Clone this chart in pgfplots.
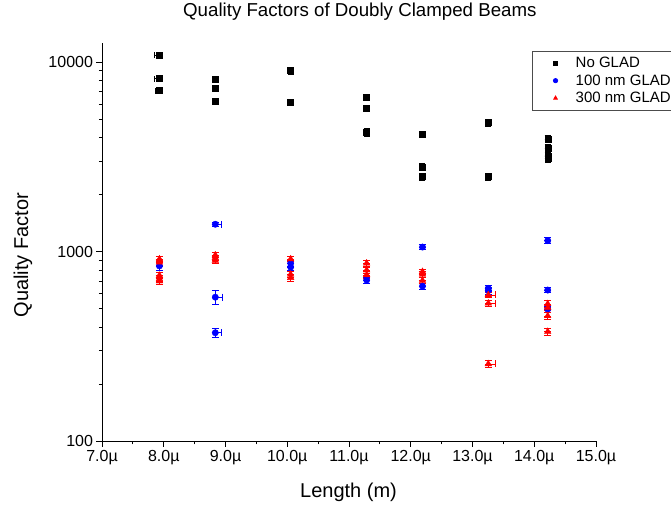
\documentclass[border=0pt]{standalone}
\usepackage{fontspec}
\setmainfont{Liberation Sans}
\usepackage{pgfplots}
\usepackage{pgfplotstable}
\pgfplotsset{compat=1.18}

\pgfplotstableread{
x y exp exm ey
7.93 10900 0 0.08 300
7.93 8190 0 0.08 250
7.93 7080 0 0.07 200
8.835 8130 0 0 250
8.835 7260 0 0 250
8.835 6250 0 0 200
10.055 9030 0 0 350
10.055 6120 0 0 200
11.286 6540 0 0 250
11.286 5690 0 0 200
11.286 4280 0 0 200
12.19 4170 0 0 150
12.19 2810 0 0 120
12.19 2490 0 0 100
13.256 4800 0 0 200
13.256 2490 0 0 100
14.218 3940 0 0 150
14.218 3520 0 0 150
14.218 3200 0 0 130
14.218 3100 0 0 130
}\noglad

\pgfplotstableread{
x y exp exm ey
7.93 842 0 0 40
8.835 1397 0.1 0 35
8.835 576 0.11 0 48
8.835 374 0.1 0 19
10.055 870 0 0 35
10.055 830 0 0 35
11.286 709 0 0 25
12.19 1059 0 0 35
12.19 659 0 0 25
13.256 641 0 0 25
13.256 624 0 0 25
14.218 1145 0 0 40
14.218 628 0 0 20
14.218 498 0 0 20
}\gladA

\pgfplotstableread{
x y exp exm ey
7.93 915 0 0 30
7.93 880 0 0 30
7.93 750 0 0 30
7.93 720 0 0 30
7.93 700 0 0 30
8.835 960 0 0 30
8.835 930 0 0 30
8.835 900 0 0 30
10.055 915 0 0 30
10.055 760 0 0 30
10.055 730 0 0 30
11.286 870 0 0 30
11.286 800 0 0 30
11.286 755 0 0 30
12.19 785 0 0 25
12.19 760 0 0 25
12.19 705 0 0 25
13.256 592 0.12 0 20
13.256 535 0.12 0 20
13.256 256 0.12 0 10
14.218 531 0 0 20
14.218 508 0 0 20
14.218 459 0 0 18
14.218 379 0 0 15
}\gladB

\begin{document}
\begin{tikzpicture}
\useasboundingbox (-102pt,-64.7pt) rectangle (569pt,441.3pt);
\begin{axis}[
  at={(0pt,0pt)}, anchor=south west,
  scale only axis, width=494pt, height=398pt,
  xmin=7, xmax=15, ymode=log, ymin=100, ymax=12589,
  axis lines=left, axis line style={-, line width=0.9pt},
  tick align=outside, major tick length=5.5pt, minor tick length=3pt,
  tick style={black, line width=0.9pt},
  xtick={7,8,9,10,11,12,13,14,15},
  xticklabels={7.0µ,8.0µ,9.0µ,10.0µ,11.0µ,12.0µ,13.0µ,14.0µ,15.0µ},
  minor x tick num=1,
  ytick={100,1000,10000}, yticklabels={100,1000,10000},
  tick label style={font=\fontsize{16}{18}\selectfont},
  title={Quality Factors of Doubly Clamped Beams},
  title style={at={(0.522,1.0636)}, anchor=center, font=\fontsize{18.7}{20}\selectfont},
  xlabel={Length (m)},
  xlabel style={at={(0.499,-0.127)}, anchor=center, font=\fontsize{20}{22}\selectfont},
  ylabel={Quality Factor},
  ylabel style={at={(-0.16,0.468)}, anchor=center, font=\fontsize{20}{22}\selectfont},
  legend style={at={(0.8704,0.981)}, anchor=north west, draw=black!70, line width=0.7pt,
    font=\fontsize{15}{17}\selectfont, cells={anchor=west},
    inner xsep=21pt, inner ysep=4pt, /tikz/column sep=16pt, /tikz/row sep=1.5pt},
  legend image post style={mark size=2.2pt},
  error bars/error bar style={line width=0.7pt},
]
\addplot[only marks, black, mark=square*, mark size=3pt,
  error bars/.cd, y dir=both, y explicit, x dir=both, x explicit,
  error mark options={rotate=90, mark size=3pt, line width=0.7pt}]
  table[x=x, y=y, x error plus=exp, x error minus=exm, y error=ey] {\noglad};
\addlegendentry{No GLAD}
\addplot[only marks, blue, mark=*, mark size=3.2pt,
  error bars/.cd, y dir=both, y explicit, x dir=both, x explicit,
  error mark options={rotate=90, mark size=3.5pt, line width=0.7pt}]
  table[x=x, y=y, x error plus=exp, x error minus=exm, y error=ey] {\gladA};
\addlegendentry{100 nm GLAD}
\addplot[only marks, red, mark=triangle*, mark size=3.8pt,
  error bars/.cd, y dir=both, y explicit, x dir=both, x explicit,
  error mark options={rotate=90, mark size=3.5pt, line width=0.7pt}]
  table[x=x, y=y, x error plus=exp, x error minus=exm, y error=ey] {\gladB};
\addlegendentry{300 nm GLAD}
\end{axis}
\end{tikzpicture}
\end{document}
